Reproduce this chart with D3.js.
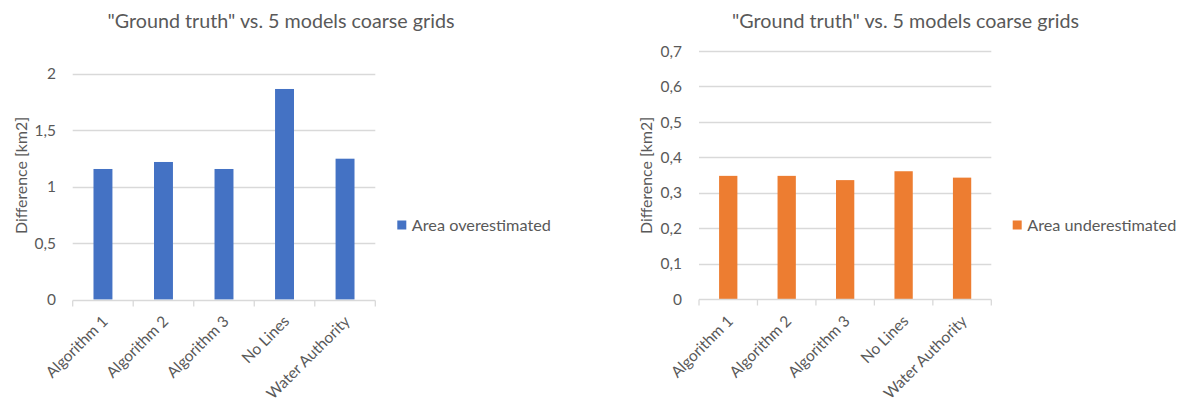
<!DOCTYPE html>
<html>
<head>
<meta charset="utf-8">
<script src="https://cdn.jsdelivr.net/npm/d3@7"></script>
<style>
  html, body { margin: 0; padding: 0; background: #fff; }
  svg { display: block; font-family: Lato, "Open Sans", sans-serif; }
</style>
</head>
<body>
<svg id="chart" width="1193" height="405"></svg>
<script>
// Categories shared by both panels
const categories = ["Algorithm 1", "Algorithm 2", "Algorithm 3", "No Lines", "Water Authority"];

// Area differences in km2
const overestimated  = [1.155, 1.217, 1.155, 1.863, 1.246];
const underestimated = [0.348, 0.348, 0.336, 0.361, 0.343];

// Value-axis ticks for each panel
const overTicks  = [0, 0.5, 1, 1.5, 2];
const underTicks = [0, 0.1, 0.2, 0.3, 0.4, 0.5, 0.6, 0.7];

const chartTitle = "\"Ground truth\" vs. 5 models coarse grids";
const yTitle = "Difference [km2]";

const TEXT = "#595959";
const GRID = "#d9d9d9";

// Decimal comma, as in the source workbook
const fmt = d3.formatLocale({ decimal: ",", thousands: ".", grouping: [3], currency: ["", ""] }).format("~g");

const svg = d3.select("#chart");

// Scale a text element's font size so it spans the given width; returns the new size
function fitWidth(sel, target) {
  const node = sel.node();
  const size = parseFloat(sel.attr("font-size"));
  const w = node.getComputedTextLength();
  const s = w > 0 ? size * target / w : size;
  sel.attr("font-size", s);
  return s;
}

// Body text size: the longest category label spans about 110px
const probe = svg.append("text").attr("font-size", 14).text("Water Authority");
const BODY = fitWidth(probe, 110);
probe.remove();

function panel(opts) {
  const g = svg.append("g");

  const x = d3.scaleBand()
    .domain(categories)
    .range([opts.x0, opts.x1])
    .paddingInner(0.687)
    .paddingOuter(0.687 / 2);

  const y = d3.scaleLinear()
    .domain([0, d3.max(opts.ticks)])
    .range([opts.yBase, opts.yTop]);

  // Horizontal gridlines
  g.append("g")
    .selectAll("line")
    .data(opts.ticks.filter(t => t > 0))
    .join("line")
    .attr("x1", opts.x0).attr("x2", opts.x1)
    .attr("y1", d => Math.round(y(d)) + 0.5).attr("y2", d => Math.round(y(d)) + 0.5)
    .attr("stroke", GRID).attr("stroke-width", 1.3);

  // Value-axis labels
  g.append("g")
    .selectAll("text")
    .data(opts.ticks)
    .join("text")
    .attr("x", opts.labelRight)
    .attr("y", d => y(d))
    .attr("dy", "0.36em")
    .attr("text-anchor", "end")
    .attr("font-size", BODY)
    .attr("fill", TEXT)
    .text(d => fmt(d));

  // Bars
  g.append("g")
    .selectAll("rect")
    .data(opts.values)
    .join("rect")
    .attr("x", (d, i) => x(categories[i]))
    .attr("width", x.bandwidth())
    .attr("y", d => y(d))
    .attr("height", d => y(0) - y(d))
    .attr("fill", opts.color);

  // Category axis line and tick marks between categories
  const base = Math.round(y(0)) + 0.5;
  g.append("line")
    .attr("x1", opts.x0).attr("x2", opts.x1)
    .attr("y1", base).attr("y2", base)
    .attr("stroke", GRID).attr("stroke-width", 1.3);
  const edges = d3.range(categories.length + 1).map(i => opts.x0 + i * x.step());
  g.append("g")
    .selectAll("line")
    .data(edges)
    .join("line")
    .attr("x1", d => d).attr("x2", d => d)
    .attr("y1", base).attr("y2", base + 6)
    .attr("stroke", GRID).attr("stroke-width", 1.3);

  // Rotated category labels
  g.append("g")
    .selectAll("text")
    .data(categories)
    .join("text")
    .attr("transform", d => `translate(${x(d) + x.bandwidth() / 2 - 2},${opts.yBase + 15}) rotate(-45)`)
    .attr("text-anchor", "end")
    .attr("dy", "0.71em")
    .attr("font-size", BODY)
    .attr("fill", TEXT)
    .text(d => d);

  // Value-axis title
  const yt = g.append("text")
    .attr("transform", `translate(${opts.yTitleX},${opts.yTitleY}) rotate(-90)`)
    .attr("text-anchor", "middle")
    .attr("dy", "0.35em")
    .attr("font-size", BODY)
    .attr("fill", TEXT)
    .text(yTitle);
  fitWidth(yt, 117);

  // Chart title
  const t = g.append("text")
    .attr("x", opts.titleX)
    .attr("y", 28)
    .attr("text-anchor", "middle")
    .attr("font-size", 18.5)
    .attr("fill", TEXT)
    .text(chartTitle);
  fitWidth(t, 347);

  // Legend
  const lg = g.append("g").attr("transform", `translate(${opts.legendX},225)`);
  lg.append("rect")
    .attr("x", 0).attr("y", -4.5)
    .attr("width", 9).attr("height", 9)
    .attr("fill", opts.color);
  const lt = lg.append("text")
    .attr("x", 14.5)
    .attr("dy", "0.36em")
    .attr("font-size", BODY)
    .attr("fill", TEXT)
    .text(opts.legend);
  fitWidth(lt, opts.legendWidth);
}

panel({
  values: overestimated,
  ticks: overTicks,
  color: "#4472c4",
  legend: "Area overestimated",
  legendWidth: 139,
  x0: 72.7, x1: 375.3,
  yBase: 299.5, yTop: 73.5,
  labelRight: 56,
  yTitleX: 21, yTitleY: 175.5,
  titleX: 281,
  legendX: 397.3
});

panel({
  values: underestimated,
  ticks: underTicks,
  color: "#ed7d31",
  legend: "Area underestimated",
  legendWidth: 149,
  x0: 699, x1: 991.3,
  yBase: 299.3, yTop: 51,
  labelRight: 682,
  yTitleX: 646, yTitleY: 175.5,
  titleX: 905.5,
  legendX: 1012.7
});
</script>
</body>
</html>
